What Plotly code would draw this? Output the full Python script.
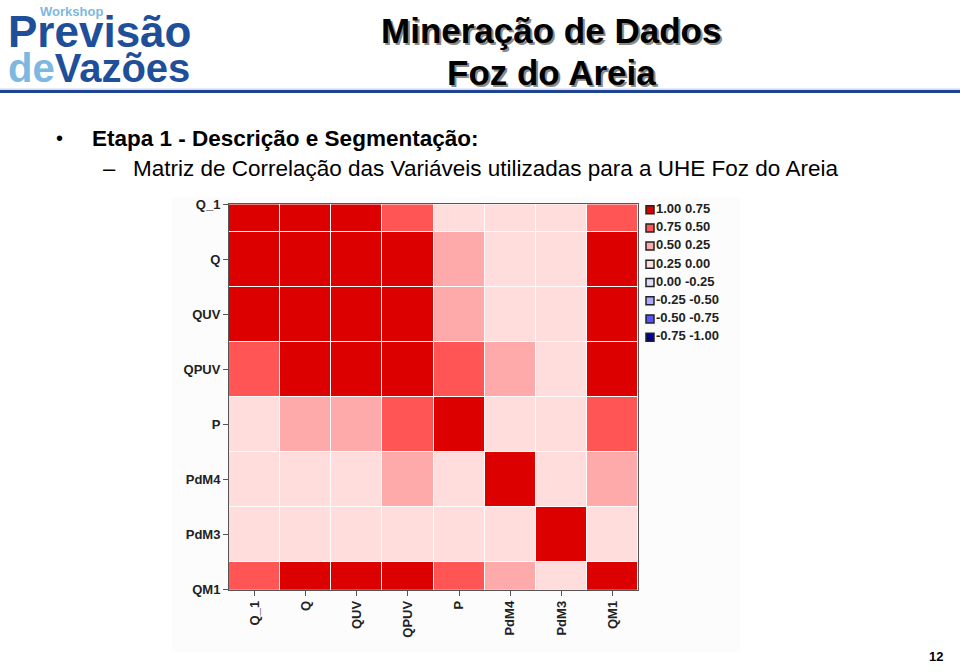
import plotly.graph_objects as go

# ---------------- data ----------------
variables = ["Q_1", "Q", "QUV", "QPUV", "P", "PdM4", "PdM3", "QM1"]

corr_Q_1 = [1.00, 0.93, 0.92, 0.70, 0.15, 0.08, 0.05, 0.66]
corr_Q = [0.93, 1.00, 0.99, 0.82, 0.35, 0.12, 0.06, 0.90]
corr_QUV = [0.92, 0.99, 1.00, 0.83, 0.36, 0.12, 0.06, 0.89]
corr_QPUV = [0.70, 0.82, 0.83, 1.00, 0.62, 0.40, 0.15, 0.85]
corr_P = [0.15, 0.35, 0.36, 0.62, 1.00, 0.18, 0.10, 0.58]
corr_PdM4 = [0.08, 0.12, 0.12, 0.40, 0.18, 1.00, 0.12, 0.33]
corr_PdM3 = [0.05, 0.06, 0.06, 0.15, 0.10, 0.12, 1.00, 0.09]
corr_QM1 = [0.66, 0.90, 0.89, 0.85, 0.58, 0.33, 0.09, 1.00]

legend_labels = ["1.00 0.75", "0.75 0.50", "0.50 0.25", "0.25 0.00",
                 "0.00 -0.25", "-0.25 -0.50", "-0.50 -0.75", "-0.75 -1.00"]
# bin colours from +1 down to -1
bin_colors = ["#DD0000", "#FF5555", "#FFAAAA", "#FFDDDD",
              "#DDDDFF", "#AAAAFF", "#5555FF", "#00008B"]

z = [corr_Q_1, corr_Q, corr_QUV, corr_QPUV, corr_P, corr_PdM4, corr_PdM3, corr_QM1]

# discrete colourscale, 8 bins over [-1, 1]
asc = bin_colors[::-1]
colorscale = []
for i, c in enumerate(asc):
    colorscale.append([i / 8, c])
    colorscale.append([(i + 1) / 8, c])

W, H = 960, 672
def px(x):
    return x / W
def py(y):
    return 1 - y / H

FONT = "Liberation Sans, Arial, sans-serif"

fig = go.Figure()

fig.add_trace(go.Heatmap(
    z=z, x=variables, y=variables,
    zmin=-1, zmax=1, colorscale=colorscale, showscale=False,
    xgap=1, ygap=1, hoverongaps=False,
    xaxis="x", yaxis="y",
))

# legend drawn as a marker+text series on its own axes
fig.add_trace(go.Scatter(
    x=[0] * len(legend_labels), y=list(range(len(legend_labels))),
    mode="markers+text", text=legend_labels, textposition="middle right",
    textfont=dict(family=FONT, size=13, color="#222222", weight="bold"),
    marker=dict(symbol="square", size=8, color=bin_colors,
                line=dict(color="#222222", width=1.5)),
    xaxis="x2", yaxis="y2", showlegend=False, hoverinfo="skip", cliponaxis=False,
))

tickfont = dict(family=FONT, size=13, color="#222222", weight="bold")

fig.update_layout(
    width=W, height=H, autosize=False,
    margin=dict(l=0, r=0, t=0, b=0),
    paper_bgcolor="white", plot_bgcolor="white",
    showlegend=False,
    xaxis=dict(domain=[px(229), px(638)], type="category",
               categoryorder="array", categoryarray=variables,
               range=[-0.5, 7.5], tickangle=-90, tickfont=tickfont,
               ticks="outside", ticklen=5, tickcolor="#555555",
               showline=True, linecolor="#555555", linewidth=1, mirror=True,
               showgrid=False, zeroline=False, anchor="y"),
    yaxis=dict(domain=[py(596), py(202)], type="category",
               categoryorder="array", categoryarray=variables,
               range=[7, 0], tickfont=tickfont,
               ticks="outside", ticklen=5, tickcolor="#555555",
               showline=True, linecolor="#555555", linewidth=1, mirror=True,
               showgrid=False, zeroline=False, anchor="x"),
    xaxis2=dict(domain=[px(646), px(760)], range=[-0.04, 1.1], visible=False,
                anchor="y2", fixedrange=True),
    yaxis2=dict(domain=[py(347), py(198)], range=[7.5, -0.5], visible=False,
                anchor="x2", fixedrange=True),
)

shapes = [
    # faint picture background
    dict(type="rect", xref="paper", yref="paper", x0=px(172), x1=px(740),
         y0=py(660), y1=py(195), fillcolor="#FCFCFC", line=dict(width=0), layer="below"),
    # header rule
    dict(type="line", xref="paper", yref="paper", x0=0, x1=1, y0=py(84), y1=py(84),
         line=dict(color="#B8C8E6", width=1)),
    dict(type="line", xref="paper", yref="paper", x0=0, x1=1, y0=py(86.5), y1=py(86.5),
         line=dict(color="#1D4392", width=3)),
]
fig.update_layout(shapes=shapes)

DARK_BLUE = "#1E4F98"
LIGHT_BLUE = "#7DB8E3"

ann = []
def add(text, x, y, size, color="black", bold=False, xanchor="left", yanchor="middle",
        shadow=None):
    font = dict(family=FONT, size=size, color=color,
                weight="bold" if bold else "normal")
    if shadow:
        font["shadow"] = shadow
    ann.append(dict(text=text, x=px(x), y=py(y), xref="paper", yref="paper",
                    xanchor=xanchor, yanchor=yanchor, showarrow=False, font=font))

# logo
add("Workshop", 38, 5, 13, LIGHT_BLUE, True)
add("Previsão", 6, 25, 44, DARK_BLUE, True)
add(f"<span style='color:{LIGHT_BLUE}'>de</span>Vazões", 6, 62, 40, DARK_BLUE, True)

# title with shadow
TITLE_SHADOW = "2px 2px 0px #8A8A8A"
add("Mineração de Dados", 551, 24, 35, "black", True, xanchor="center", shadow=TITLE_SHADOW)
add("Foz do Areia", 551, 67, 35, "black", True, xanchor="center", shadow=TITLE_SHADOW)

# bullets
add("•", 54, 134, 20)
add("Etapa 1 - Descrição e Segmentação:", 90, 134, 22.5, "black", True)
add("–", 101, 165, 22)
add("Matriz de Correlação das Variáveis utilizadas para a UHE Foz do Areia", 131, 165, 22.5)

# page number
add("12", 936, 664, 13, "black", True, xanchor="center")

fig.update_layout(annotations=ann)

fig.write_html("out.html")
